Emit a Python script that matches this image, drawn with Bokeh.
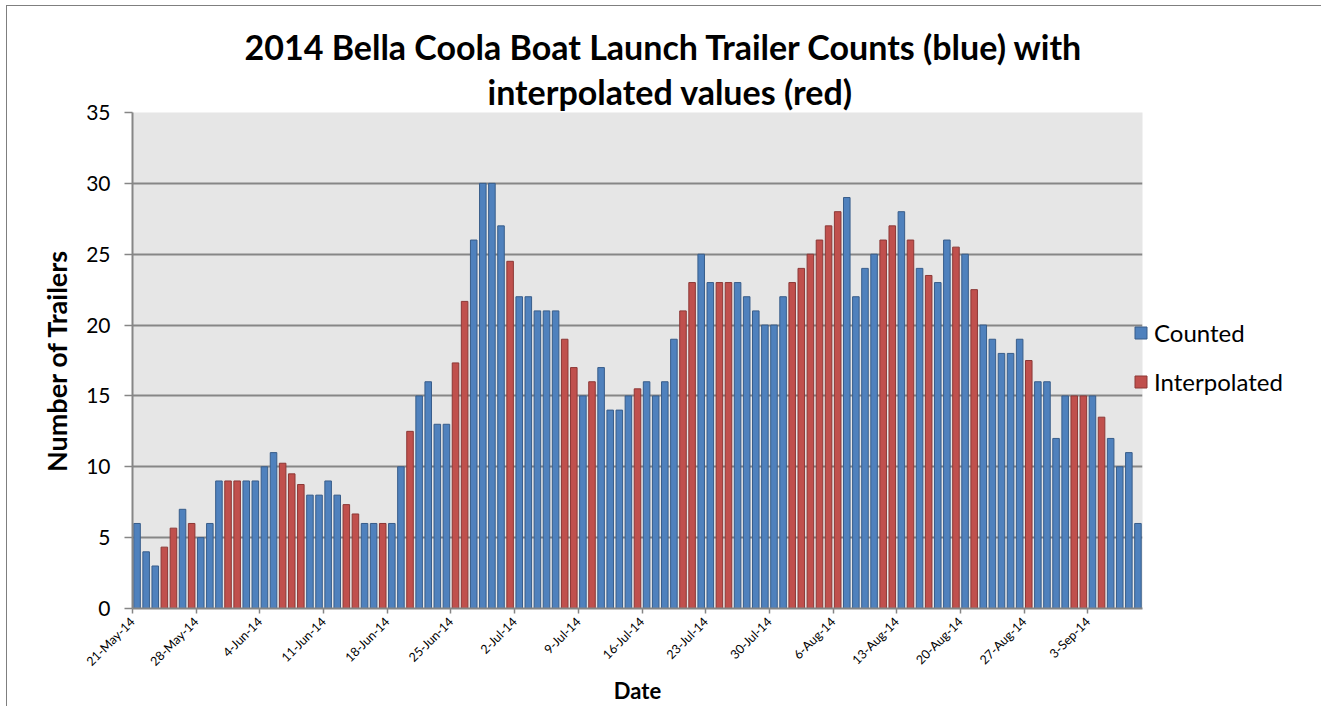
import math
from bokeh.plotting import figure
from bokeh.models import (Range1d, FixedTicker, Legend, LegendItem,
                          ColumnDataSource, Title)
from bokeh.embed import file_html
from bokeh.resources import INLINE

FONT = "Lato"

# ---- data (one value per day, 21-May-14 .. 8-Sep-14) ----
counted = [
    6, 4, 3, None, None, 7, None, 5, 6, 9,
    None, None, 9, 9, 10, 11, None, None, None, 8,
    8, 9, 8, None, None, 6, 6, None, 6, 10,
    None, 15, 16, 13, 13, None, None, 26, 30, 30,
    27, None, 22, 22, 21, 21, 21, None, None, 15,
    None, 17, 14, 14, 15, None, 16, 15, 16, 19,
    None, None, 25, 23, None, None, 23, 22, 21, 20,
    20, 22, None, None, None, None, None, None, 29, 22,
    24, 25, None, None, 28, None, 24, None, 23, 26,
    None, 25, None, 20, 19, 18, 18, 19, None, 16,
    16, 12, 15, None, None, 15, None, 12, 10, 11,
    6,
]
interpolated = [
    None, None, None, 4.33, 5.67, None, 6, None, None, None,
    9, 9, None, None, None, None, 10.25, 9.5, 8.75, None,
    None, None, None, 7.33, 6.67, None, None, 6, None, None,
    12.5, None, None, None, None, 17.33, 21.67, None, None, None,
    None, 24.5, None, None, None, None, None, 19, 17, None,
    16, None, None, None, None, 15.5, None, None, None, None,
    21, 23, None, None, 23, 23, None, None, None, None,
    None, None, 23, 24, 25, 26, 27, 28, None, None,
    None, None, 26, 27, None, 26, None, 23.5, None, None,
    25.5, None, 22.5, None, None, None, None, None, 17.5, None,
    None, None, None, 15, 15, None, 13.5, None, None, None,
    None,
]
tick_labels = ["21-May-14", "28-May-14", "4-Jun-14", "11-Jun-14", "18-Jun-14",
               "25-Jun-14", "2-Jul-14", "9-Jul-14", "16-Jul-14", "23-Jul-14",
               "30-Jul-14", "6-Aug-14", "13-Aug-14", "20-Aug-14", "27-Aug-14",
               "3-Sep-14"]
y_ticks = [0, 5, 10, 15, 20, 25, 30, 35]
title_lines = ["2014 Bella Coola Boat Launch Trailer Counts (blue) with",
               "interpolated values (red)"]

n_days = len(counted)


def series(vals):
    xs, ys = [], []
    for i, v in enumerate(vals):
        if v is not None:
            xs.append(i + 0.5)
            ys.append(v)
    return ColumnDataSource(dict(x=xs, y=ys))


src_c = series(counted)
src_i = series(interpolated)

p = figure(frame_width=1010, frame_height=496,
           min_border_left=125, min_border_right=172,
           min_border_top=106, min_border_bottom=98,
           x_range=Range1d(0, n_days), y_range=Range1d(0, 35),
           title_location=None,
           output_backend="svg", toolbar_location=None)
p.margin = (5, 0, 0, 6)
p.styles = {"border-top": "1px solid #7F7F7F", "border-left": "1px solid #7F7F7F",
            "border-right": "1px solid #7F7F7F"}

p.background_fill_color = "#E6E6E6"
p.border_fill_color = "white"
p.outline_line_color = None

r_c = p.vbar(x="x", top="y", width=0.72, bottom=0, source=src_c,
             fill_color="#4F81BD", line_color="#385D8A", line_width=1)
r_i = p.vbar(x="x", top="y", width=0.72, bottom=0, source=src_i,
             fill_color="#C0504D", line_color="#8C3836", line_width=1)

# grid
p.xgrid.grid_line_color = None
p.ygrid.ticker = FixedTicker(ticks=y_ticks)
p.ygrid.grid_line_color = "#868686"
p.ygrid.grid_line_width = 2

# y axis
p.yaxis.ticker = FixedTicker(ticks=y_ticks)
p.yaxis.axis_line_color = "#868686"
p.yaxis.axis_line_width = 2
p.yaxis.major_tick_line_color = "#868686"
p.yaxis.major_tick_line_width = 1.5
p.yaxis.major_tick_out = 8
p.yaxis.major_tick_in = 0
p.yaxis.minor_tick_line_color = None
p.yaxis.major_label_text_font = FONT
p.yaxis.major_label_text_font_size = "21px"
p.yaxis.major_label_text_color = "black"
p.yaxis.major_label_standoff = 14
p.yaxis.axis_label = "Number of Trailers"
p.yaxis.axis_label_text_font = FONT
p.yaxis.axis_label_text_font_size = "27px"
p.yaxis.axis_label_text_font_style = "bold"
p.yaxis.axis_label_text_color = "black"
p.yaxis.axis_label_standoff = 10

# x axis
x_ticks = [7 * k for k in range(len(tick_labels))]
p.xaxis.ticker = FixedTicker(ticks=x_ticks)
p.xaxis.major_label_overrides = {t: lab for t, lab in zip(x_ticks, tick_labels)}
p.xaxis.major_label_orientation = math.pi / 4
p.xaxis.axis_line_color = "#868686"
p.xaxis.axis_line_width = 2
p.xaxis.major_tick_line_color = "#868686"
p.xaxis.major_tick_line_width = 1.5
p.xaxis.major_tick_out = 5
p.xaxis.major_tick_in = 0
p.xaxis.minor_tick_line_color = None
p.xaxis.major_label_text_font = FONT
p.xaxis.major_label_text_font_size = "12.5px"
p.xaxis.major_label_text_color = "black"
p.xaxis.major_label_standoff = 6
p.xaxis.axis_label = "Date"
p.xaxis.axis_label_text_font = FONT
p.xaxis.axis_label_text_font_size = "22px"
p.xaxis.axis_label_text_font_style = "bold"
p.xaxis.axis_label_text_color = "black"
p.xaxis.axis_label_standoff = 0

# two-line title, each line its own Title (first added sits nearest the frame)
for txt, off in ((title_lines[1], 355), (title_lines[0], 112)):
    p.add_layout(Title(text=txt, align="left", offset=off,
                       text_font=FONT, text_font_size="34px",
                       text_font_style="bold", text_color="black",
                       standoff=2), "above")

legend = Legend(items=[LegendItem(label="Counted", renderers=[r_c]),
                       LegendItem(label="Interpolated", renderers=[r_i])],
                location=(-9, 212), orientation="vertical",
                padding=0, margin=0, spacing=20,
                glyph_width=15, glyph_height=15, label_standoff=6,
                label_text_font=FONT, label_text_font_size="24px",
                label_text_color="black",
                border_line_color=None, background_fill_alpha=0)
p.add_layout(legend, "right")

open("out.html", "w").write(file_html(p, INLINE))
